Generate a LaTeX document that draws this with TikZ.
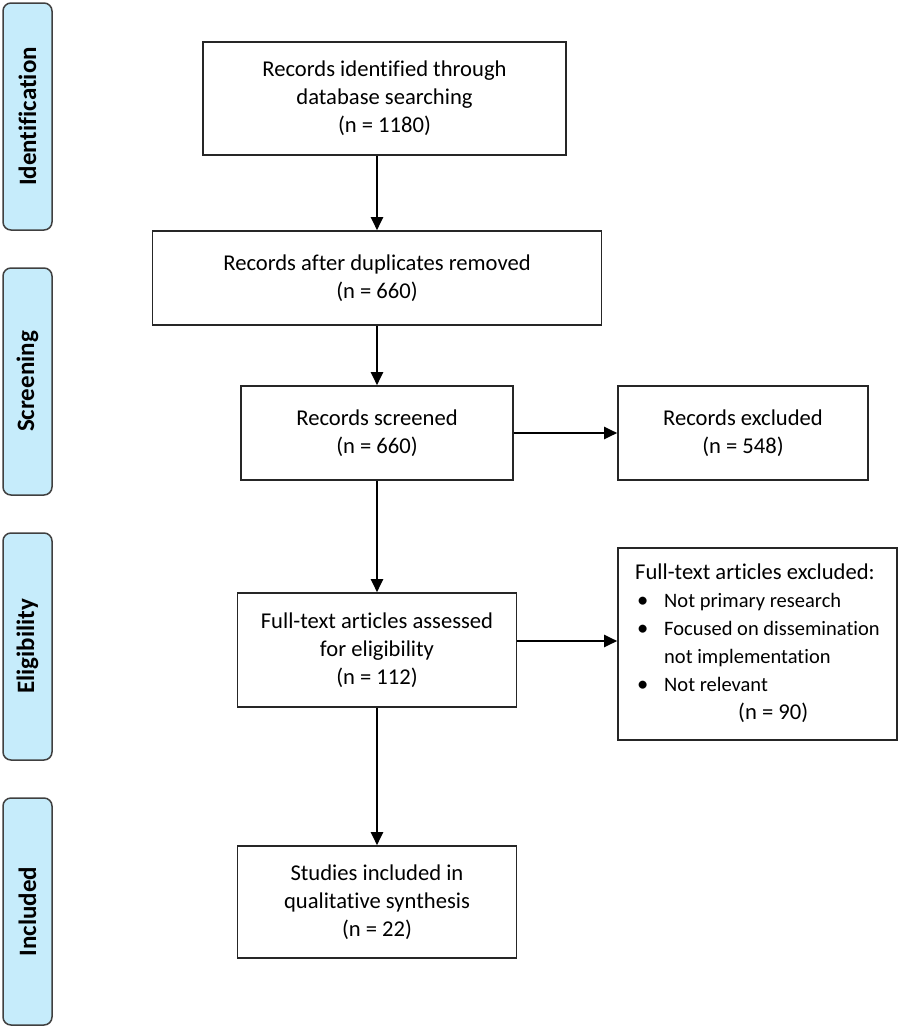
\documentclass[tikz,border=0pt]{standalone}
\usepackage{fontspec}
\setmainfont{Carlito}[Ligatures=NoCommon]
\usetikzlibrary{arrows.meta}
\definecolor{phasefill}{HTML}{C6ECFB}
\definecolor{edge}{HTML}{262626}
\begin{document}
\begin{tikzpicture}[x=1pt,y=-1pt,
  box/.style={draw=edge, line width=1.6pt, rectangle, inner sep=0pt, align=center,
    font=\fontsize{22.6}{28}\selectfont},
  phase/.style={draw=black!75, fill=phasefill, line width=1.5pt, rounded corners=8pt,
    minimum width=227pt, minimum height=49pt, inner sep=0pt, rotate=90,
    font=\fontsize{25}{28}\selectfont\bfseries},
  arr/.style={draw=black, line width=2pt, -{Triangle[length=13pt,width=12pt]}}]
\useasboundingbox (0,0) rectangle (900,1029);
% phase labels
\node[phase] (pid) at (27.5,116.5) {Identification};
\node[phase] (psc) at (27.5,381.5) {Screening};
\node[phase] (pel) at (27.5,646.5) {Eligibility};
\node[phase] (pin) at (27.5,911.5) {Included};
% boxes
\node[box, minimum width=363pt, minimum height=113pt] (b1) at (384.5,98.5)
  {Records identified through\\database searching\\(n = 1180)};
\node[box, minimum width=449pt, minimum height=94pt] (b2) at (377,278)
  {Records after duplicates removed\\(n = 660)};
\node[box, minimum width=272pt, minimum height=94pt] (b3) at (377,433)
  {Records screened\\(n = 660)};
\node[box, minimum width=250pt, minimum height=94pt] (b4) at (743,433)
  {Records excluded\\(n = 548)};
\node[box, minimum width=279pt, minimum height=114pt] (b5) at (377,650)
  {Full-text articles assessed\\for eligibility\\(n = 112)};
\node[box, minimum width=279pt, minimum height=192pt, align=left] (b6) at (757.5,644)
  {\begin{tabular}{@{}l@{}l@{}}
   \multicolumn{2}{@{}l@{}}{Full-text articles excluded:}\\
   \makebox[29pt][l]{\hspace{2pt}\textbullet} & {\fontsize{20.5}{28}\selectfont Not primary research}\\
   \makebox[29pt][l]{\hspace{2pt}\textbullet} & {\fontsize{20.5}{28}\selectfont Focused on dissemination}\\
   & {\fontsize{20.5}{28}\selectfont not implementation}\\
   \makebox[29pt][l]{\hspace{2pt}\textbullet} & {\fontsize{20.5}{28}\selectfont Not relevant}\\
   \multicolumn{2}{@{}l@{}}{\hspace{103pt}(n = 90)}
   \end{tabular}};
\node[box, minimum width=279pt, minimum height=112pt] (b7) at (377,902)
  {Studies included in\\qualitative synthesis\\(n = 22)};
% connectors
\draw[arr] (b1.south -| b2.north) -- (b2.north);
\draw[arr] (b2.south) -- (b3.north);
\draw[arr] (b3.south) -- (b5.north);
\draw[arr] (b5.south) -- (b7.north);
\draw[arr] (b3.east) -- (b4.west);
\draw[arr] ([yshift=9pt]b5.east) -- ([yshift=9pt]b5.east -| b6.west);
\end{tikzpicture}
\end{document}
